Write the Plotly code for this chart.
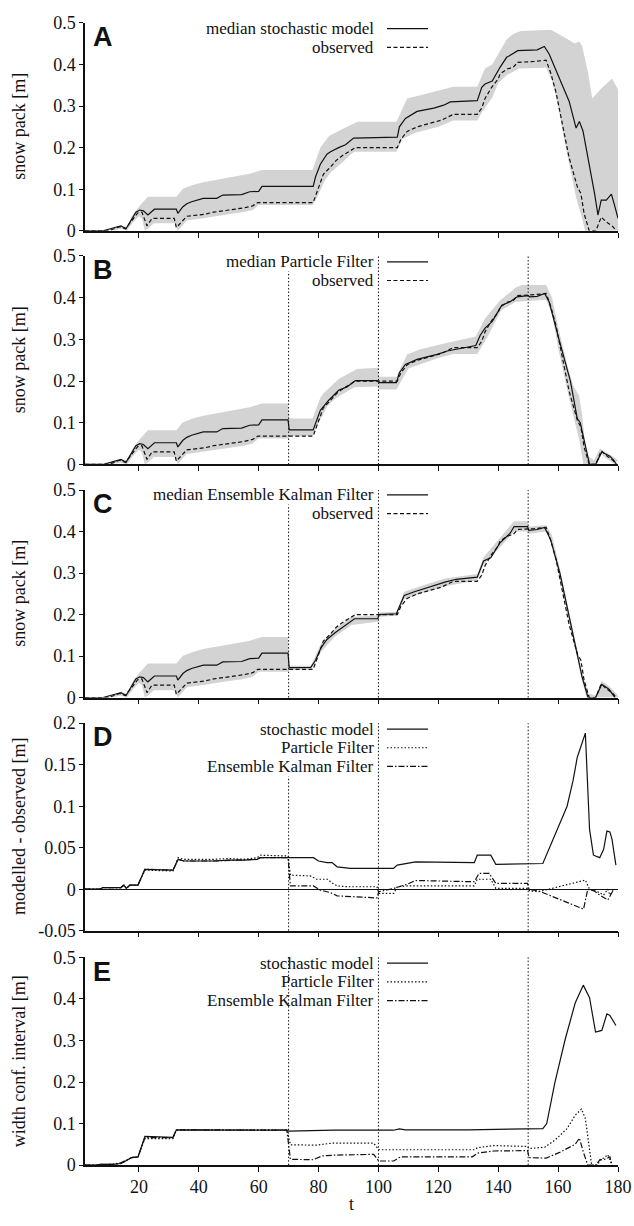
import plotly.graph_objects as go

# ---------------- data ----------------
# observed snow pack (shared by panels A, B, C)
obs_t = [2, 10, 12, 13.5, 15.5, 17, 19.6, 21, 22.7, 24.4, 31.8, 32.5, 34, 36, 42, 45, 50, 55, 58, 59.7,
         78.2, 80, 81.6, 83.8, 86, 87.8, 91, 92.3, 106.3, 107.5, 109.6, 113, 117, 121, 125, 133, 134.5,
         135.6, 137.8, 140, 140.6, 143, 145, 146.5, 152, 156, 157.5, 159.3, 161.5, 163.7, 166.5, 167.6,
         168.7, 170.4, 172.6, 174.4, 176, 178.3, 179.4]
obs_v = [0, 0, 0.006, 0.01, 0.005, 0.02, 0.043, 0.045, 0.012, 0.03, 0.03, 0.008, 0.02, 0.035, 0.04, 0.045,
         0.05, 0.055, 0.06, 0.068, 0.068, 0.104, 0.136, 0.152, 0.17, 0.18, 0.193, 0.2, 0.2, 0.22, 0.239,
         0.25, 0.258, 0.266, 0.28, 0.28, 0.295, 0.318, 0.345, 0.365, 0.377, 0.389, 0.393, 0.405, 0.407,
         0.41, 0.38, 0.333, 0.254, 0.175, 0.104, 0.09, 0.041, 0, 0, 0.033, 0.022, 0.01, 0]

# median / band before assimilation starts (t < 70), common to A, B, C
med_pre_t = [2, 8, 12, 14, 15.7, 17, 19, 20.3, 21.5, 23, 24, 25.2, 32.5, 33, 34.7, 36, 37.6, 40, 41.5, 46,
             48, 54.3, 57, 60, 61.1, 69.8]
med_pre_v = [0, 0, 0.008, 0.012, 0.005, 0.02, 0.045, 0.05, 0.048, 0.038, 0.045, 0.052, 0.052, 0.042,
             0.058, 0.065, 0.07, 0.074, 0.078, 0.078, 0.086, 0.087, 0.094, 0.095, 0.107, 0.107]
up_pre_t = [2, 10, 14, 16, 18, 20, 23, 32.5, 34.7, 38, 41.5, 47, 51.5, 57, 61, 69.8]
up_pre_v = [0, 0.001, 0.013, 0.01, 0.04, 0.058, 0.082, 0.082, 0.101, 0.11, 0.117, 0.125, 0.13, 0.137,
            0.146, 0.146]
lo_pre_t = [2, 12, 14, 16, 18, 20, 21, 22, 23, 25, 32, 33, 34, 36, 42, 47, 50, 55, 58, 60, 69.8]
lo_pre_v = [0, 0.002, 0.005, 0, 0.02, 0.035, 0.03, 0, 0.005, 0.018, 0.018, 0, 0.01, 0.025, 0.031,
            0.036, 0.04, 0.045, 0.05, 0.062, 0.062]

# panel A: stochastic model (t >= 70)
a_med_t = [78.2, 79, 80.6, 82.8, 84, 86.7, 89, 91.7, 106.3, 107, 109, 112.9, 118.5, 121.8, 124, 133,
           134.5, 135.6, 138, 140.6, 142.8, 143.6, 146.5, 153, 155.4, 157, 160.4, 163.7, 166, 167.1,
           168.3, 170, 172.2, 173.3, 174.4, 176.1, 177.8, 178.9, 180]
a_med_v = [0.107, 0.13, 0.16, 0.184, 0.19, 0.2, 0.207, 0.223, 0.225, 0.25, 0.27, 0.287, 0.295, 0.302,
           0.31, 0.313, 0.345, 0.353, 0.36, 0.393, 0.417, 0.42, 0.433, 0.435, 0.443, 0.425, 0.366, 0.311,
           0.247, 0.263, 0.24, 0.176, 0.089, 0.038, 0.074, 0.074, 0.088, 0.06, 0.03]
a_up_t = [78, 80.6, 83.5, 87.5, 91.8, 93, 106, 109.6, 114, 120.7, 125, 133, 135.6, 138, 140.6, 142.8, 145,
          147.6, 157.6, 161, 164.2, 165.5, 167, 168, 170, 171.4, 173, 174.4, 178, 180]
a_up_v = [0.146, 0.2, 0.228, 0.243, 0.259, 0.262, 0.262, 0.318, 0.326, 0.338, 0.346, 0.346, 0.39, 0.4,
          0.433, 0.46, 0.473, 0.48, 0.483, 0.47, 0.456, 0.45, 0.455, 0.445, 0.38, 0.318, 0.33, 0.342,
          0.366, 0.34]
a_lo_t = [78, 79.5, 82, 84, 88, 91, 92, 106, 108, 112, 120, 125, 133, 135, 138, 140, 143, 147, 156, 158,
          160, 162, 164, 166, 168, 169, 180]
a_lo_v = [0.062, 0.08, 0.12, 0.14, 0.165, 0.185, 0.19, 0.19, 0.22, 0.235, 0.25, 0.265, 0.265, 0.29, 0.32,
          0.355, 0.375, 0.39, 0.392, 0.36, 0.3, 0.22, 0.15, 0.08, 0.03, 0, 0]

# panel B: particle filter (t >= 70)
b_med_t = [70.2, 78.2, 79, 80.6, 83.4, 86.7, 89.5, 92.3, 99.5, 100.3, 106, 107, 109, 112.9, 119.6, 123,
           132.5, 134, 135.6, 138, 141.2, 144, 146.3, 150, 150.5, 153, 155.5, 157, 160.3, 164.1, 166.4,
           167.4, 170.5, 172.5, 174.6, 177.3, 178.6, 179.5]
b_med_v = [0.083, 0.083, 0.1, 0.13, 0.154, 0.178, 0.186, 0.201, 0.201, 0.196, 0.196, 0.22, 0.24, 0.252,
           0.264, 0.272, 0.285, 0.31, 0.327, 0.343, 0.382, 0.39, 0.402, 0.405, 0.402, 0.403, 0.41, 0.39,
           0.3, 0.2, 0.11, 0.1, 0, 0, 0.03, 0.02, 0.01, 0]
b_up_t = [70.2, 78, 80.6, 81.6, 86.7, 92.8, 99.8, 100.2, 106, 109.6, 114, 123, 132.5, 135.6, 140.6, 146,
          148, 156, 158, 160, 163, 165, 167, 168, 169, 170, 172, 174, 176, 178, 180]
b_up_v = [0.11, 0.11, 0.16, 0.17, 0.205, 0.229, 0.232, 0.21, 0.21, 0.264, 0.276, 0.292, 0.307, 0.35,
          0.393, 0.425, 0.43, 0.43, 0.4, 0.33, 0.24, 0.19, 0.165, 0.12, 0.05, 0.02, 0.01, 0.038, 0.03,
          0.02, 0.01]
b_lo_t = [70.2, 78, 80, 83, 86, 92, 99.8, 100.2, 106, 110, 120, 125, 133, 136, 141, 146, 156, 158, 160,
          163, 165, 167, 168.5, 173, 174.5, 176, 179]
b_lo_v = [0.068, 0.068, 0.1, 0.14, 0.16, 0.185, 0.187, 0.18, 0.18, 0.23, 0.255, 0.265, 0.265, 0.3, 0.37,
          0.39, 0.395, 0.36, 0.28, 0.18, 0.12, 0.06, 0, 0, 0.025, 0.015, 0]

# panel C: ensemble Kalman filter (t >= 70)
c_med_t = [70.2, 77.4, 79, 80.8, 82.8, 85.5, 87.6, 91, 92, 99.8, 100.2, 106, 107, 108.6, 112, 116.8,
           122.2, 126, 133, 135.1, 137.5, 140.6, 144, 145.3, 149.8, 150.2, 153, 155.5, 157.5, 160.6,
           163.5, 166.5, 168, 170, 172.5, 174.6, 177, 179]
c_med_v = [0.072, 0.073, 0.09, 0.12, 0.14, 0.156, 0.167, 0.183, 0.19, 0.19, 0.2, 0.202, 0.22, 0.246,
           0.255, 0.266, 0.278, 0.285, 0.29, 0.329, 0.337, 0.373, 0.396, 0.412, 0.412, 0.403, 0.405,
           0.41, 0.38, 0.3, 0.2, 0.1, 0.05, 0, 0, 0.032, 0.02, 0]
c_up_t = [70.2, 77.4, 80.8, 85.5, 91, 99.8, 100.2, 106, 108.6, 116.8, 122.2, 133, 135.1, 140.6, 145.3,
          149.8, 150.2, 156, 158, 160.6, 163.5, 166.5, 168, 170, 172.5, 174.6, 177, 180]
c_up_v = [0.077, 0.077, 0.13, 0.165, 0.195, 0.198, 0.205, 0.207, 0.255, 0.275, 0.287, 0.298, 0.338,
          0.385, 0.425, 0.425, 0.412, 0.415, 0.39, 0.31, 0.21, 0.11, 0.06, 0.01, 0.005, 0.04, 0.028,
          0.005]
c_lo_t = [70.2, 77.4, 80.8, 85.5, 91, 99.8, 100.2, 106, 108.6, 116.8, 122.2, 133, 135.1, 140.6, 145.3,
          149.8, 150.2, 156, 158, 160.6, 163.5, 166.5, 168, 169.5, 180]
c_lo_v = [0.067, 0.067, 0.11, 0.147, 0.175, 0.183, 0.195, 0.197, 0.237, 0.257, 0.268, 0.282, 0.32,
          0.362, 0.4, 0.4, 0.395, 0.4, 0.37, 0.29, 0.19, 0.09, 0.04, 0, 0]

# panel D: modelled - observed
d_sto_t = [2, 7, 8, 14, 15, 15.8, 17, 19.7, 22, 31.4, 33.1, 35, 44.8, 50, 55, 59.5, 60.5, 78.3, 80, 82.8,
           84.5, 86.2, 90.6, 105, 106.3, 109.6, 112.4, 132, 133, 137.5, 139.2, 154.9, 163, 165, 166.4,
           169.1, 170.5, 171.8, 173.9, 175.2, 176.3, 177.3, 178, 179.3]
d_sto_v = [0, 0, 0.002, 0.002, 0.005, 0.001, 0.005, 0.005, 0.024, 0.023, 0.036, 0.034, 0.034, 0.035,
           0.035, 0.036, 0.038, 0.038, 0.034, 0.032, 0.032, 0.027, 0.025, 0.025, 0.029, 0.031, 0.033,
           0.032, 0.041, 0.041, 0.03, 0.031, 0.1, 0.131, 0.159, 0.188, 0.072, 0.041, 0.038, 0.048, 0.07,
           0.069, 0.06, 0.029]
d_pf_t = [2, 7, 8, 14, 15, 15.8, 17, 19.7, 22, 31.4, 33.1, 35, 44.8, 50, 55, 59.5, 60.5, 69.8, 70.6,
          77.2, 79.4, 83, 84.5, 86.2, 89.5, 99.5, 100.1, 105.1, 106.3, 109.6, 132, 133, 137.5, 139.2,
          150, 150.5, 153.5, 169.1, 170.5, 173.2, 175.2, 176.6, 177.3, 178.6]
d_pf_v = [0, 0, 0.002, 0.002, 0.005, 0.001, 0.005, 0.005, 0.023, 0.022, 0.038, 0.036, 0.036, 0.037,
          0.036, 0.038, 0.041, 0.04, 0.017, 0.016, 0.012, 0.012, 0.0075, 0.004, 0.003, 0.003, -0.005,
          -0.005, 0.003, 0.004, 0.004, 0.012, 0.012, 0.001, 0.001, -0.002, -0.003, 0.011, 0, -0.003,
          -0.007, 0, -0.007, 0]
d_enkf_t = [2, 7, 8, 14, 15, 15.8, 17, 19.7, 22, 31.4, 33.1, 35, 44.8, 55, 59.5, 60.5, 69.8, 70.6, 78.3,
            80.5, 83.9, 86.2, 90.6, 99.5, 100.1, 105.1, 109.6, 112.4, 132, 133.6, 137, 139.2, 149.8,
            150.3, 153.5, 168.5, 169.9, 172, 173.9, 176.6, 178.6]
d_enkf_v = [0, 0, 0.002, 0.002, 0.005, 0.001, 0.005, 0.005, 0.024, 0.023, 0.036, 0.034, 0.034, 0.035,
            0.036, 0.038, 0.038, 0.004, 0.004, -0.001, -0.004, -0.008, -0.009, -0.0105, -0.003, 0.001,
            0.006, 0.0105, 0.009, 0.019, 0.019, 0.007, 0.007, 0, -0.002, -0.024, 0, -0.002, -0.007,
            -0.013, 0]

# panel E: width of confidence interval
e_sto_t = [2, 5.7, 7.4, 11.3, 14.1, 15.8, 17.5, 19.7, 22, 31.4, 32.5, 69.4, 70, 85, 100, 105, 107, 109,
           130, 150, 154.9, 156.2, 158.9, 162.3, 165.7, 168.4, 170.5, 172.5, 174.6, 176.3, 177.3, 179.3]
e_sto_v = [0, 0, 0.002, 0.002, 0.004, 0.012, 0.018, 0.02, 0.069, 0.067, 0.085, 0.084, 0.082, 0.084,
           0.085, 0.084, 0.087, 0.085, 0.085, 0.087, 0.088, 0.1, 0.198, 0.301, 0.39, 0.433, 0.403, 0.32,
           0.324, 0.364, 0.36, 0.336]
e_pf_t = [2, 5.7, 7.4, 11.3, 14.1, 15.8, 17.5, 19.7, 22, 31.4, 32.5, 69.4, 70.6, 79.4, 84.5, 98.4,
          100.1, 132, 133.1, 138.6, 149.8, 150.2, 155.5, 158.9, 163, 165.7, 167.8, 169.1, 171.2, 173.2,
          174, 175.2, 176.6, 178]
e_pf_v = [0, 0, 0.002, 0.002, 0.004, 0.012, 0.018, 0.02, 0.064, 0.064, 0.085, 0.085, 0.049, 0.048,
          0.053, 0.053, 0.037, 0.037, 0.042, 0.047, 0.045, 0.04, 0.043, 0.06, 0.088, 0.12, 0.135, 0.112,
          0, 0, 0.013, 0.017, 0.025, 0]
e_enkf_t = [2, 5.7, 7.4, 11.3, 14.1, 15.8, 17.5, 19.7, 22, 31.4, 32.5, 69.4, 70.6, 78.3, 81.1, 85, 98.4,
            100.1, 105.1, 107.4, 131.4, 133.1, 138.6, 149.8, 150.3, 156, 160.3, 165.7, 167.1, 168.5,
            169.9, 172.5, 173.9, 176, 177.3, 178]
e_enkf_v = [0, 0, 0.002, 0.002, 0.006, 0.012, 0.018, 0.02, 0.066, 0.066, 0.085, 0.084, 0.014, 0.013,
            0.022, 0.024, 0.026, 0.01, 0.01, 0.02, 0.02, 0.029, 0.034, 0.035, 0.018, 0.017, 0.03, 0.05,
            0.065, 0.03, 0, 0, 0.012, 0.015, 0.02, 0]

assim_times = [70, 100, 150]
x_ticks = [20, 40, 60, 80, 100, 120, 140, 160, 180]
snow_ticks = [0, 0.1, 0.2, 0.3, 0.4, 0.5]
snow_ticktext = ["0", "0.1", "0.2", "0.3", "0.4", "0.5"]
diff_ticks = [-0.05, 0, 0.05, 0.1, 0.15, 0.2]
diff_ticktext = ["-0.05", "0", "0.05", "0.1", "0.15", "0.2"]

# ---------------- layout helpers ----------------
W, H = 634, 1226
L, R = 85, 618
SERIF = "Liberation Serif, Times New Roman, serif"
SANS = "Liberation Sans, Arial, sans-serif"
INK = "#111111"
BAND = "#d3d3d3"
DASH_OBS = "4px,2.5px"
DOT = "1.5px,2px"
DASHDOT = "6px,2px,1.5px,2px"
LEG_FONT = 17
LEG_STEP = 19


def pxx(px):
    return (px - L) / (R - L)


def pyy(py):
    return (H - py) / H


panels = [
    dict(letter="A", top=13, bot=224.5, rng=[0, 0.5], tv=snow_ticks, tt=snow_ticktext, title="snow pack [m]",
         leg0=19),
    dict(letter="B", top=250, bot=462, rng=[0, 0.5], tv=snow_ticks, tt=snow_ticktext, title="snow pack [m]",
         leg0=256),
    dict(letter="C", top=488, bot=699, rng=[0, 0.5], tv=snow_ticks, tt=snow_ticktext, title="snow pack [m]",
         leg0=493),
    dict(letter="D", top=725, bot=936, rng=[-0.05, 0.2], tv=diff_ticks, tt=diff_ticktext,
         title="modelled - observed [m]", leg0=731),
    dict(letter="E", top=963, bot=1174.3, rng=[0, 0.5], tv=snow_ticks, tt=snow_ticktext,
         title="width conf. interval [m]", leg0=969),
]

fig = go.Figure()


def add_band(i, up_t, up_v, lo_t, lo_v):
    fig.add_trace(go.Scatter(x=up_t + lo_t[::-1], y=up_v + lo_v[::-1], fill="toself", fillcolor=BAND,
                             line=dict(width=0), mode="lines", hoverinfo="skip", showlegend=False,
                             xaxis=f"x{i}", yaxis=f"y{i}"))


def add_line(i, t, v, dash="solid", width=1.2):
    fig.add_trace(go.Scatter(x=t, y=v, mode="lines", line=dict(color=INK, width=width, dash=dash),
                             showlegend=False, xaxis=f"x{i}", yaxis=f"y{i}"))


# Panel A
add_band(1, up_pre_t + a_up_t, up_pre_v + a_up_v, lo_pre_t + a_lo_t, lo_pre_v + a_lo_v)
add_line(1, med_pre_t + a_med_t, med_pre_v + a_med_v)
add_line(1, obs_t, obs_v, DASH_OBS)
# Panel B
add_band(2, up_pre_t + b_up_t, up_pre_v + b_up_v, lo_pre_t + b_lo_t, lo_pre_v + b_lo_v)
add_line(2, med_pre_t + b_med_t, med_pre_v + b_med_v)
add_line(2, obs_t, obs_v, DASH_OBS)
# Panel C
add_band(3, up_pre_t + c_up_t, up_pre_v + c_up_v, lo_pre_t + c_lo_t, lo_pre_v + c_lo_v)
add_line(3, med_pre_t + c_med_t, med_pre_v + c_med_v)
add_line(3, obs_t, obs_v, DASH_OBS)
# Panel D
add_line(4, d_sto_t, d_sto_v)
add_line(4, d_pf_t, d_pf_v, DOT)
add_line(4, d_enkf_t, d_enkf_v, DASHDOT)
# Panel E
add_line(5, e_sto_t, e_sto_v)
add_line(5, e_pf_t, e_pf_v, DOT)
add_line(5, e_enkf_t, e_enkf_v, DASHDOT)

layout = dict(
    width=W, height=H, margin=dict(l=L, r=W - R, t=0, b=0),
    paper_bgcolor="white", plot_bgcolor="white",
    font=dict(family=SERIF, size=18, color=INK),
    showlegend=False,
)
shapes = []
annotations = []

legend_entries = {
    1: [("median stochastic model", "solid"), ("observed", DASH_OBS)],
    2: [("median Particle Filter", "solid"), ("observed", DASH_OBS)],
    3: [("median Ensemble Kalman Filter", "solid"), ("observed", DASH_OBS)],
    4: [("stochastic model", "solid"), ("Particle Filter", DOT), ("Ensemble Kalman Filter", DASHDOT)],
    5: [("stochastic model", "solid"), ("Particle Filter", DOT), ("Ensemble Kalman Filter", DASHDOT)],
}

for k, p in enumerate(panels):
    i = k + 1
    dom = [pyy(p["bot"]), pyy(p["top"])]
    layout[f"xaxis{i}" if i > 1 else "xaxis"] = dict(
        domain=[0, 1], range=[2, 180], anchor=f"y{i}", showline=True, linecolor=INK, linewidth=1.5,
        ticks="outside", ticklen=5, tickwidth=1, tickcolor=INK, tickvals=x_ticks,
        showticklabels=(i == 5), showgrid=False, zeroline=False, mirror=False,
        tickfont=dict(family=SERIF, size=18, color=INK))
    layout[f"yaxis{i}" if i > 1 else "yaxis"] = dict(
        domain=dom, range=p["rng"], anchor=f"x{i}", showline=True, linecolor=INK, linewidth=1.5,
        ticks="outside", ticklen=4, tickwidth=1, tickcolor=INK, tickvals=p["tv"], ticktext=p["tt"],
        showgrid=False, zeroline=(i == 4), zerolinecolor=INK, zerolinewidth=1, mirror=False,
        tickfont=dict(family=SERIF, size=18, color=INK))

    if i >= 2:
        for at in assim_times:
            shapes.append(dict(type="line", xref=f"x{i}", yref=f"y{i} domain", x0=at, x1=at, y0=0, y1=1,
                               line=dict(color=INK, width=1, dash=DOT), layer="above"))

    # panel letter
    annotations.append(dict(text=f"<b>{p['letter']}</b>", xref="paper", yref="paper", x=pxx(91),
                            y=pyy(p["top"] + 14.5), xanchor="left", yanchor="middle", showarrow=False,
                            font=dict(family=SANS, size=27, color=INK)))
    # y title
    annotations.append(dict(text=p["title"], xref="paper", yref="paper", x=pxx(19),
                            y=pyy((p["top"] + p["bot"]) / 2), xanchor="center", yanchor="middle",
                            textangle=-90, showarrow=False, font=dict(family=SERIF, size=18, color=INK)))
    # legend (text right-aligned, line sample to its right)
    for j, (label, dash) in enumerate(legend_entries[i]):
        ypix = p["leg0"] + j * LEG_STEP
        ann = dict(text=label, xref="paper", yref="paper", x=pxx(375), y=pyy(ypix), xanchor="right",
                   yanchor="middle", showarrow=False, font=dict(family=SERIF, size=LEG_FONT, color=INK),
                   borderpad=0)
        if i in (2, 3, 4):
            ann["bgcolor"] = "white"
        annotations.append(ann)
        shapes.append(dict(type="line", xref="paper", yref="paper", x0=pxx(387), x1=pxx(428),
                           y0=pyy(ypix), y1=pyy(ypix), line=dict(color=INK, width=1.2, dash=dash)))

annotations.append(dict(text="t", xref="paper", yref="paper", x=0.5, y=pyy(1214), xanchor="center",
                        yanchor="middle", showarrow=False, font=dict(family=SERIF, size=18, color=INK)))

layout["shapes"] = shapes
layout["annotations"] = annotations
fig.update_layout(**layout)

fig.write_html("out.html")
